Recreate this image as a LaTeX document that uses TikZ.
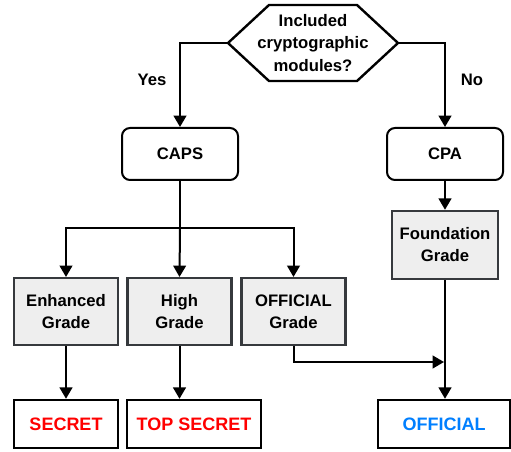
\documentclass[tikz,border=0pt]{standalone}
\usepackage{fontspec}
\setmainfont{Liberation Sans}
\usetikzlibrary{arrows.meta}
\definecolor{gradefill}{HTML}{EEEEEE}
\definecolor{gradeline}{HTML}{36393D}
\definecolor{offblue}{HTML}{007FFF}
\tikzset{
  base/.style={font=\bfseries\fontsize{12.5}{16.5}\selectfont, align=center, inner sep=0pt},
  scheme/.style={base, draw, line width=1.5pt, rounded corners=6pt, minimum width=87pt, minimum height=39pt},
  grade/.style={base, draw=gradeline, fill=gradefill, line width=1.8pt, minimum width=78pt, minimum height=50pt},
  level/.style={base, font=\bfseries\fontsize{13.5}{16.5}\selectfont, draw, line width=1.8pt, minimum height=36pt},
  link/.style={line width=1.5pt},
  arr/.style={link, -{Triangle[width=9.5pt,length=8.5pt]}},
}

\begin{document}
\begin{tikzpicture}[x=0.75pt,y=-0.75pt]
\useasboundingbox (0,0) rectangle (511,452);
% decision
\coordinate (qw) at (228,43);
\coordinate (qe) at (398,43);
\draw[line width=1.8pt] (qw) -- (269,5) -- (357,5) -- (qe) -- (357,81) -- (269,81) -- cycle;
\node[base, font=\bfseries\fontsize{12.5}{17.2}\selectfont] (query) at (313,43) {Included\\cryptographic\\modules?};
\node[base] (yes) at (152,80) {Yes};
\node[base] (no) at (472,80) {No};
% schemes
\node[scheme] (caps) at (180,154) {CAPS};
\node[scheme] (cpa) at (445,154) {CPA};
% grades
\node[grade] (enh) at (66,311.5) {Enhanced\\Grade};
\node[grade] (high) at (179.5,311.5) {High\\Grade};
\node[grade] (offg) at (293.5,311.5) {OFFICIAL\\Grade};
\node[grade, minimum width=79.5pt, minimum height=51pt] (fnd) at (445,245) {Foundation\\Grade};
% levels
\node[level, minimum width=78pt, text=red] (secret) at (66,424) {SECRET};
\node[level, minimum width=100.5pt, text=red] (topsec) at (194,424) {TOP SECRET};
\node[level, minimum width=99pt, text=offblue] (official) at (444,424) {OFFICIAL};
% connectors
\draw[arr] (qw) -| (caps.north);
\draw[arr] (qe) -| (cpa.north);
\coordinate (split) at (180,228);
\draw[link] (caps.south) -- (split);
\draw[arr] (split) -| (enh.north);
\draw[arr] (split) -- (high.north);
\draw[arr] (split) -| (offg.north);
\draw[arr] (cpa.south) -- (fnd.north);
\draw[arr] (enh.south) -- (secret.north);
\draw[arr] (high.south) -- (high.south |- topsec.north);
\draw[arr] (fnd.south) -- (fnd.south |- official.north);
\coordinate (join) at (444,362);
\draw[arr] (offg.south) |- (join);
\end{tikzpicture}
\end{document}
